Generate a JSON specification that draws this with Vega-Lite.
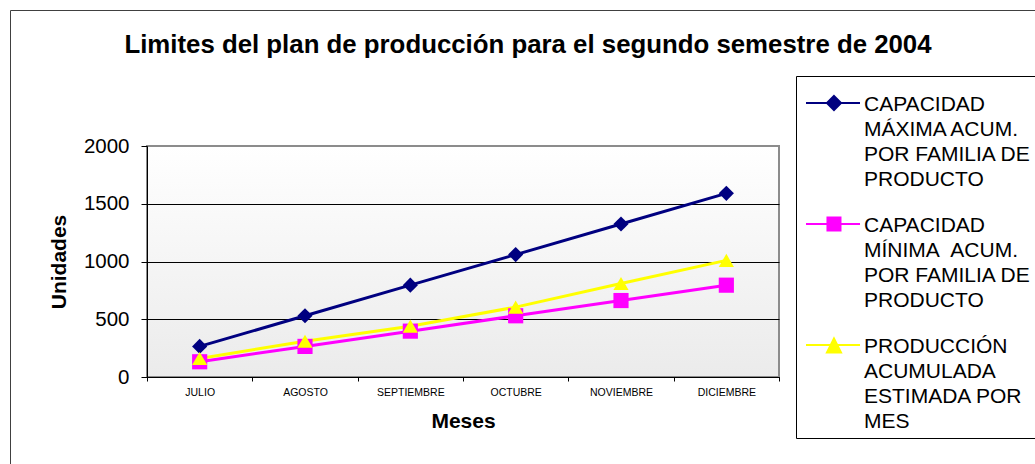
{
  "$schema": "https://vega.github.io/schema/vega-lite/v6.json",
  "autosize": "none",
  "width": 632,
  "height": 231,
  "padding": {"left": 147, "top": 146, "right": 256, "bottom": 87},
  "background": "white",
  "title": {
    "text": "Limites del plan de producción para el segundo semestre de 2004",
    "font": "Liberation Sans",
    "fontSize": 25.8,
    "fontWeight": "bold",
    "color": "black",
    "anchor": "middle",
    "frame": "group",
    "baseline": "alphabetic",
    "dx": 65,
    "offset": -69
  },
  "data": {
    "values": [
      {"mes": "JULIO", "serie": "CAPACIDAD|MÁXIMA ACUM.|POR FAMILIA DE|PRODUCTO", "valor": 265},
      {"mes": "AGOSTO", "serie": "CAPACIDAD|MÁXIMA ACUM.|POR FAMILIA DE|PRODUCTO", "valor": 530},
      {"mes": "SEPTIEMBRE", "serie": "CAPACIDAD|MÁXIMA ACUM.|POR FAMILIA DE|PRODUCTO", "valor": 795},
      {"mes": "OCTUBRE", "serie": "CAPACIDAD|MÁXIMA ACUM.|POR FAMILIA DE|PRODUCTO", "valor": 1060},
      {"mes": "NOVIEMBRE", "serie": "CAPACIDAD|MÁXIMA ACUM.|POR FAMILIA DE|PRODUCTO", "valor": 1325},
      {"mes": "DICIEMBRE", "serie": "CAPACIDAD|MÁXIMA ACUM.|POR FAMILIA DE|PRODUCTO", "valor": 1590},
      {"mes": "JULIO", "serie": "CAPACIDAD|MÍNIMA\u00a0 ACUM.|POR FAMILIA DE|PRODUCTO", "valor": 132},
      {"mes": "AGOSTO", "serie": "CAPACIDAD|MÍNIMA\u00a0 ACUM.|POR FAMILIA DE|PRODUCTO", "valor": 265},
      {"mes": "SEPTIEMBRE", "serie": "CAPACIDAD|MÍNIMA\u00a0 ACUM.|POR FAMILIA DE|PRODUCTO", "valor": 397},
      {"mes": "OCTUBRE", "serie": "CAPACIDAD|MÍNIMA\u00a0 ACUM.|POR FAMILIA DE|PRODUCTO", "valor": 530},
      {"mes": "NOVIEMBRE", "serie": "CAPACIDAD|MÍNIMA\u00a0 ACUM.|POR FAMILIA DE|PRODUCTO", "valor": 662},
      {"mes": "DICIEMBRE", "serie": "CAPACIDAD|MÍNIMA\u00a0 ACUM.|POR FAMILIA DE|PRODUCTO", "valor": 795},
      {"mes": "JULIO", "serie": "PRODUCCIÓN|ACUMULADA|ESTIMADA POR|MES", "valor": 160},
      {"mes": "AGOSTO", "serie": "PRODUCCIÓN|ACUMULADA|ESTIMADA POR|MES", "valor": 310},
      {"mes": "SEPTIEMBRE", "serie": "PRODUCCIÓN|ACUMULADA|ESTIMADA POR|MES", "valor": 440},
      {"mes": "OCTUBRE", "serie": "PRODUCCIÓN|ACUMULADA|ESTIMADA POR|MES", "valor": 605},
      {"mes": "NOVIEMBRE", "serie": "PRODUCCIÓN|ACUMULADA|ESTIMADA POR|MES", "valor": 810},
      {"mes": "DICIEMBRE", "serie": "PRODUCCIÓN|ACUMULADA|ESTIMADA POR|MES", "valor": 1010}
    ]
  },
  "encoding": {
    "x": {
      "field": "mes",
      "type": "nominal",
      "sort": ["JULIO", "AGOSTO", "SEPTIEMBRE", "OCTUBRE", "NOVIEMBRE", "DICIEMBRE"],
      "scale": {"type": "band", "paddingInner": 0, "paddingOuter": 0},
      "axis": {
        "title": "Meses",
        "labelAngle": 0,
        "labelFont": "Liberation Sans",
        "labelFontSize": 10.5,
        "labelColor": "black",
        "labelPadding": 6,
        "tickBand": "extent",
        "tickSize": 4,
        "tickColor": "black",
        "domainColor": "black",
        "titleFont": "Liberation Sans",
        "titleFontSize": 21,
        "titleFontWeight": "bold",
        "titleColor": "black",
        "titlePadding": 13,
        "grid": false
      }
    },
    "y": {
      "field": "valor",
      "type": "quantitative",
      "scale": {"domain": [0, 2000], "nice": false},
      "axis": {
        "title": "Unidades",
        "values": [0, 500, 1000, 1500, 2000],
        "format": "d",
        "labelFont": "Liberation Sans",
        "labelFontSize": 20.5,
        "labelColor": "black",
        "labelPadding": 12,
        "tickSize": 6,
        "tickColor": "black",
        "domainColor": "black",
        "grid": true,
        "gridColor": {"condition": {"test": "datum.value >= 2000", "value": "#8c8c8c"}, "value": "#000000"},
        "gridOpacity": 1,
        "titleFont": "Liberation Sans",
        "titleFontSize": 21,
        "titleFontWeight": "bold",
        "titleColor": "black",
        "titlePadding": 14
      }
    }
  },
  "layer": [
    {
      "mark": {"type": "line", "strokeWidth": 3},
      "encoding": {
        "color": {
          "field": "serie",
          "type": "nominal",
          "scale": {
            "domain": ["CAPACIDAD|MÁXIMA ACUM.|POR FAMILIA DE|PRODUCTO", "CAPACIDAD|MÍNIMA\u00a0 ACUM.|POR FAMILIA DE|PRODUCTO", "PRODUCCIÓN|ACUMULADA|ESTIMADA POR|MES"],
            "range": ["#000080", "#ff00ff", "#ffff00"]
          },
          "legend": null
        }
      }
    },
    {
      "mark": {"type": "point", "filled": true, "opacity": 1},
      "encoding": {
        "color": {
          "field": "serie",
          "type": "nominal",
          "scale": {
            "domain": ["CAPACIDAD|MÁXIMA ACUM.|POR FAMILIA DE|PRODUCTO", "CAPACIDAD|MÍNIMA\u00a0 ACUM.|POR FAMILIA DE|PRODUCTO", "PRODUCCIÓN|ACUMULADA|ESTIMADA POR|MES"],
            "range": ["#000080", "#ff00ff", "#ffff00"]
          },
          "legend": null
        },
        "shape": {
          "field": "serie",
          "type": "nominal",
          "scale": {
            "domain": ["CAPACIDAD|MÁXIMA ACUM.|POR FAMILIA DE|PRODUCTO", "CAPACIDAD|MÍNIMA\u00a0 ACUM.|POR FAMILIA DE|PRODUCTO", "PRODUCCIÓN|ACUMULADA|ESTIMADA POR|MES"],
            "range": ["diamond", "square", "triangle-up"]
          },
          "legend": null
        },
        "size": {"value": 230}
      }
    },
    {
      "mark": {"type": "point", "filled": true, "strokeWidth": 2, "fillOpacity": 0, "strokeOpacity": 0},
      "encoding": {
        "opacity": {
          "datum": "marco",
          "type": "nominal",
          "scale": {"range": [0]},
          "legend": {
            "orient": "none",
            "legendX": -137,
            "legendY": -136,
            "title": null,
            "padding": 530,
            "labelExpr": "''",
            "symbolOpacity": 0,
            "symbolSize": 0,
            "strokeColor": "#404040"
          }
        },
        "color": {
          "field": "serie",
          "type": "nominal",
          "scale": {
            "domain": ["CAPACIDAD|MÁXIMA ACUM.|POR FAMILIA DE|PRODUCTO", "CAPACIDAD|MÍNIMA\u00a0 ACUM.|POR FAMILIA DE|PRODUCTO", "PRODUCCIÓN|ACUMULADA|ESTIMADA POR|MES"],
            "range": ["#000080", "#ff00ff", "#ffff00"]
          },
          "legend": {
            "orient": "none",
            "legendX": 649,
            "legendY": -70,
            "title": null,
            "labelExpr": "split(datum.label, '|')",
            "labelFont": "Liberation Sans",
            "labelFontSize": 21,
            "labelColor": "black",
            "labelBaseline": "top",
            "labelLimit": 0,
            "labelOffset": 39,
            "symbolSize": 441,
            "symbolOpacity": 1,
            "symbolStrokeWidth": 2,
            "rowPadding": 13,
            "padding": 6,
            "strokeColor": "black",
            "fillColor": "white",
            "encode": {
              "labels": {"update": {"lineHeight": {"value": 25}}},
              "symbols": {"update": {"opacity": {"value": 1}, "fillOpacity": {"value": 1}, "strokeOpacity": {"value": 1}}}
            }
          }
        },
        "stroke": {
          "field": "serie",
          "type": "nominal",
          "scale": {
            "domain": ["CAPACIDAD|MÁXIMA ACUM.|POR FAMILIA DE|PRODUCTO", "CAPACIDAD|MÍNIMA\u00a0 ACUM.|POR FAMILIA DE|PRODUCTO", "PRODUCCIÓN|ACUMULADA|ESTIMADA POR|MES"],
            "range": ["#000080", "#ff00ff", "#ffff00"]
          },
          "legend": {
            "orient": "none",
            "legendX": 649,
            "legendY": -70,
            "title": null,
            "labelExpr": "split(datum.label, '|')",
            "labelFont": "Liberation Sans",
            "labelFontSize": 21,
            "labelColor": "black",
            "labelBaseline": "top",
            "labelLimit": 0,
            "labelOffset": 39,
            "symbolSize": 441,
            "symbolOpacity": 1,
            "symbolStrokeWidth": 2,
            "rowPadding": 13,
            "padding": 6,
            "strokeColor": "black",
            "fillColor": "white",
            "encode": {
              "labels": {"update": {"lineHeight": {"value": 25}}},
              "symbols": {"update": {"opacity": {"value": 1}, "fillOpacity": {"value": 1}, "strokeOpacity": {"value": 1}}}
            }
          }
        },
        "shape": {
          "field": "serie",
          "type": "nominal",
          "scale": {
            "domain": ["CAPACIDAD|MÁXIMA ACUM.|POR FAMILIA DE|PRODUCTO", "CAPACIDAD|MÍNIMA\u00a0 ACUM.|POR FAMILIA DE|PRODUCTO", "PRODUCCIÓN|ACUMULADA|ESTIMADA POR|MES"],
            "range": [
              "M-0.714,0.905H4.43M1.95,0.24L2.62,0.905L1.95,1.57L1.28,0.905Z",
              "M-0.714,0.905H4.43M1.33,0.285H2.57V1.525H1.33Z",
              "M-0.714,0.905H4.43M1.95,0.29L2.62,1.62H1.28Z"
            ]
          },
          "legend": {
            "orient": "none",
            "legendX": 649,
            "legendY": -70,
            "title": null,
            "labelExpr": "split(datum.label, '|')",
            "labelFont": "Liberation Sans",
            "labelFontSize": 21,
            "labelColor": "black",
            "labelBaseline": "top",
            "labelLimit": 0,
            "labelOffset": 39,
            "symbolSize": 441,
            "symbolOpacity": 1,
            "symbolStrokeWidth": 2,
            "rowPadding": 13,
            "padding": 6,
            "strokeColor": "black",
            "fillColor": "white",
            "encode": {
              "labels": {"update": {"lineHeight": {"value": 25}}},
              "symbols": {"update": {"opacity": {"value": 1}, "fillOpacity": {"value": 1}, "strokeOpacity": {"value": 1}}}
            }
          }
        }
      }
    }
  ],
  "resolve": {"scale": {"color": "independent", "shape": "independent", "stroke": "independent", "opacity": "independent"}},
  "config": {
    "view": {
      "stroke": "#8c8c8c",
      "strokeWidth": 2,
      "fill": {
        "gradient": "linear",
        "x1": 0, "y1": 0, "x2": 0, "y2": 1,
        "stops": [{"offset": 0, "color": "#ffffff"}, {"offset": 1, "color": "#ebebeb"}]
      }
    }
  }
}
